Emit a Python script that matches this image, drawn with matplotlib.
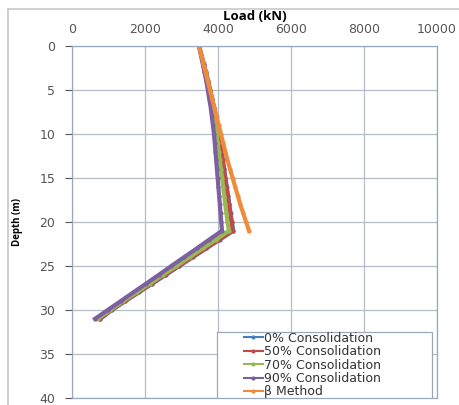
import numpy as np
import matplotlib.pyplot as plt
import matplotlib.patches as mpatches
from matplotlib.lines import Line2D

plt.rcParams['font.family'] = ['DejaVu Sans']

# depth (m) for the consolidation curves, 0..31
depth_cons = list(range(0, 32))
# depth (m) for the beta method curve, 0..21
depth_beta = list(range(0, 22))

load_0 = [3480, 3545, 3610, 3670, 3730, 3785, 3840, 3890, 3935, 3980, 4020, 4060,
          4100, 4135, 4170, 4205, 4240, 4275, 4310, 4345, 4380, 4420,
          4050, 3680, 3310, 2940, 2570, 2200, 1830, 1460, 1090, 780]
load_50 = [3480, 3540, 3605, 3665, 3725, 3780, 3835, 3885, 3930, 3975, 4015, 4055,
           4090, 4125, 4160, 4195, 4230, 4265, 4300, 4335, 4370, 4400,
           4030, 3660, 3290, 2920, 2550, 2180, 1810, 1440, 1080, 760]
load_70 = [3480, 3540, 3600, 3650, 3700, 3750, 3800, 3840, 3880, 3920, 3960, 3990,
           4020, 4050, 4080, 4110, 4140, 4170, 4200, 4230, 4260, 4300,
           3940, 3580, 3220, 2860, 2490, 2130, 1770, 1400, 1050, 700]
load_90 = [3480, 3530, 3580, 3630, 3680, 3720, 3760, 3800, 3830, 3860, 3890, 3910,
           3930, 3950, 3970, 3990, 4010, 4030, 4050, 4070, 4090, 4110,
           3760, 3420, 3070, 2720, 2380, 2030, 1680, 1330, 980, 630]
load_beta = [3480, 3540, 3600, 3660, 3720, 3780, 3840, 3900, 3960, 4020, 4080, 4140,
             4200, 4260, 4330, 4400, 4470, 4540, 4610, 4690, 4770, 4850]

series = [
    ('0% Consolidation', depth_cons, load_0, '#4A7EBB'),
    ('50% Consolidation', depth_cons, load_50, '#BE4B48'),
    ('70% Consolidation', depth_cons, load_70, '#98B954'),
    ('90% Consolidation', depth_cons, load_90, '#7D60A0'),
    ('\u03b2 Method', depth_beta, load_beta, '#EE8C3C'),
]

fig = plt.figure(figsize=(4.6, 4.05), dpi=100)
ax = fig.add_axes([72 / 460, 7 / 405, 365 / 460, 352 / 405])

# light outer chart frame (only top and left edges are visible)
fx, fy = 8 / 460, 1 - 9 / 405
fig.lines.append(Line2D([fx, 1.05], [fy, fy], transform=fig.transFigure,
                        color='#c8c8c8', lw=1.2))
fig.lines.append(Line2D([fx, fx], [-0.05, fy], transform=fig.transFigure,
                        color='#c8c8c8', lw=1.2))

for name, d, load, c in series:
    ax.plot(load, d, color=c, lw=3, marker='o', ms=2, label=name)

ax.set_xlim(0, 10000)
ax.set_ylim(40, 0)
ax.set_xticks(np.arange(0, 10001, 2000))
ax.set_yticks(np.arange(0, 41, 5))
ax.xaxis.tick_top()
ax.xaxis.set_label_position('top')
ax.set_xlabel('Load (kN)', fontsize=9.5, fontweight='bold', labelpad=2,
              family=['Open Sans', 'DejaVu Sans'])
ax.set_ylabel('Depth (m)', fontsize=7, fontweight='bold', labelpad=12,
              family=['Open Sans', 'DejaVu Sans'])
ax.tick_params(axis='both', labelsize=9, colors='#555555', length=5, width=0.8,
               direction='out', pad=7)
ax.tick_params(axis='x', length=0, pad=7)
ax.grid(True, color='#b4bcc8', lw=0.9)
ax.set_axisbelow(True)
for s in ax.spines.values():
    s.set_color('#9aa8bc')
    s.set_linewidth(0.9)

# legend box drawn separately so the entries sit like the original
x0, x1 = (217 - 72) / 365, (432 - 72) / 365
y1 = (398 - 332) / 352
ax.add_patch(mpatches.Rectangle((x0, 0.0), x1 - x0, y1, transform=ax.transAxes,
                                facecolor='white', edgecolor='#9aa8bc', lw=0.9,
                                zorder=5))
leg = ax.legend(loc='upper left', bbox_to_anchor=(x0 + 0.07, y1 + 0.004),
                fontsize=9, frameon=False, handlelength=1.5, handletextpad=0.15,
                labelspacing=0.03, borderpad=0.1, borderaxespad=0)
leg.set_zorder(6)
for line in leg.get_lines():
    line.set_linewidth(1.5)
for t in leg.get_texts():
    t.set_color('#333333')

fig.savefig('out.png', dpi=100)
